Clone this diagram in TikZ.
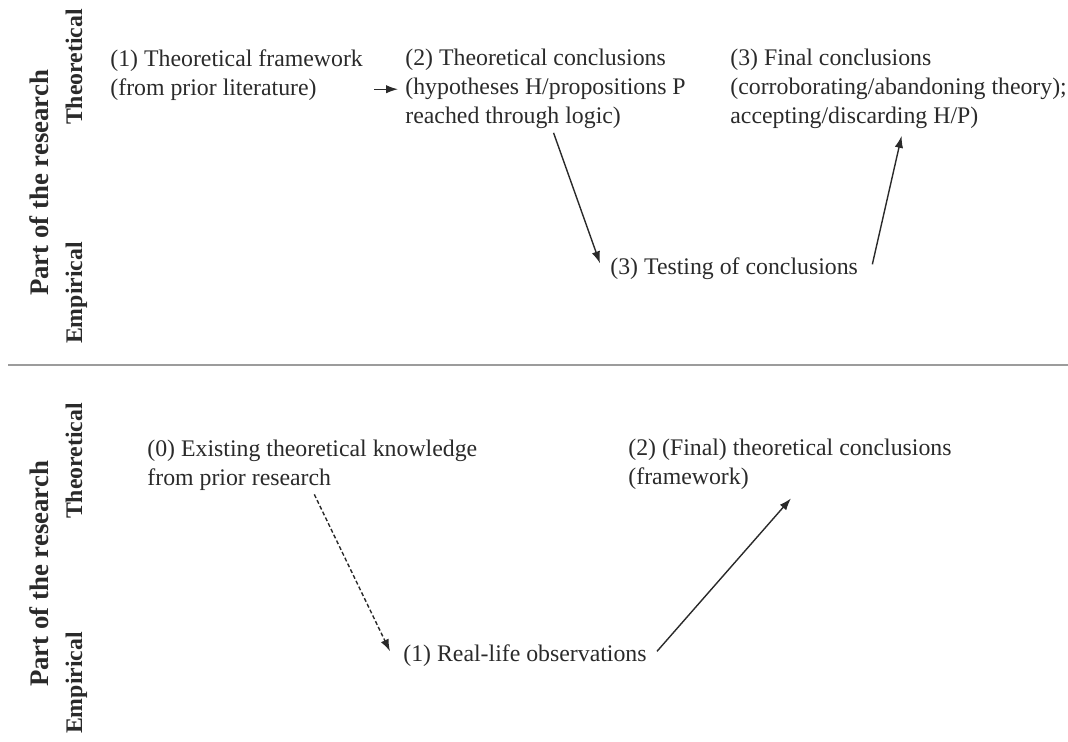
\documentclass[tikz,border=0pt]{standalone}
\usepackage{fontspec}
\setmainfont{Liberation Serif}
\usetikzlibrary{arrows.meta}
\definecolor{ink}{HTML}{2A2A2A}
\definecolor{rulegray}{HTML}{9C9C9C}

\begin{document}
\begin{tikzpicture}[x=0.5pt, y=-0.5pt,
  txt/.style={anchor=north west, inner sep=0pt, align=left, text=ink,
    font=\fontsize{11.9}{14.5}\selectfont},
  side/.style={anchor=base, rotate=90, inner sep=0pt, text=ink,
    font=\bfseries\fontsize{11.9}{14}\selectfont},
  arr/.style={-{Latex[length=6pt,width=4.2pt]}, draw=ink, line width=0.7pt}]

\useasboundingbox (0,0) rectangle (1068,742);

% side labels
\foreach \y/\lab in {67/Theoretical, 293/Empirical, 461/Theoretical, 683/Empirical} {
  \node [side] (side-\y) at (82,\y) {\lab};
}
\node [side, font=\bfseries\fontsize{13.4}{15}\selectfont] (part-top) at (48,183) {Part of the research};
\node [side, font=\bfseries\fontsize{13.4}{15}\selectfont] (part-bot) at (48,574) {Part of the research};

\draw [rulegray, line width=1pt] (8,365) -- (1068,365);

% upper panel
\node [txt] (frame) at (110,49) {(1) Theoretical framework\\(from prior literature)};
\node [txt] (theo) at (405,49) {(2) Theoretical conclusions\\(hypotheses H/propositions P\\reached through logic)};
\node [txt] (final) at (730,49) {(3) Final conclusions\\(corroborating/abandoning theory);\\accepting/discarding H/P)};
\node [txt] (test) at (610,257) {(3) Testing of conclusions};

\coordinate (frame-out) at (frame.east |- theo.west);
\draw [arr] ([xshift=5.5pt]frame-out) -- ([xshift=-3.5pt]theo.west);
\draw [arr] ([shift={(4pt,-1.7pt)}]theo.south) -- ([shift={(-5pt,2.5pt)}]test.west);
\draw [arr] ([shift={(7pt,2pt)}]test.east) -- ([shift={(1.5pt,-3.2pt)}]final.south);

% lower panel
\node [txt] (exist) at (147,440) {(0) Existing theoretical knowledge\\from prior research};
\node [txt] (obs) at (403,644) {(1) Real-life observations};
\node [txt] (concl) at (628,439) {(2) (Final) theoretical conclusions\\(framework)};

\draw [arr, dash pattern=on 2pt off 1.2pt] ([shift={(1pt,-1.5pt)}]exist.south) -- ([shift={(-6.5pt,2pt)}]obs.west);
\draw [arr] ([shift={(5pt,2pt)}]obs.east) -- ([shift={(0.5pt,-4pt)}]concl.south);

\end{tikzpicture}
\end{document}
